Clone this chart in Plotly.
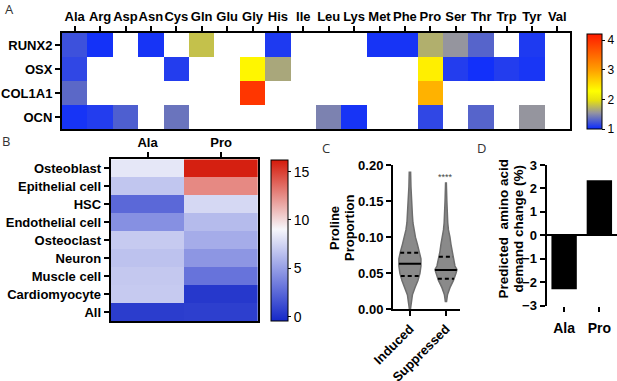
import plotly.graph_objects as go
import numpy as np

# ---------------- Panel A data ----------------
aa_cols = ["Ala","Arg","Asp","Asn","Cys","Gln","Glu","Gly","His","Ile",
           "Leu","Lys","Met","Phe","Pro","Ser","Thr","Trp","Tyr","Val"]
genes = ["RUNX2","OSX","COL1A1","OCN"]
N = None
runx2 = [1.2, 1.04, N, 1.05, N, 1.79, N, N, 1.08, N, N, N, 1.05, 1.05, 1.69, 1.55, 1.3, N, 1.08, N]
osx   = [1.15, N, N, N, 1.1, N, N, 2.35, 1.65, N, N, N, N, N, 2.4, 1.1, 1.03, 1.1, 1.06, N]
col1a1= [1.32, N, N, N, N, N, N, 3.95, N, N, N, N, N, N, 2.85, N, N, N, N, N]
ocn   = [1.05, 1.1, 1.27, N, 1.38, N, N, N, N, N, 1.45, 1.05, N, N, 1.15, N, 1.3, N, 1.55, N]

# ---------------- Panel B data ----------------
b_cols = ["Ala","Pro"]
cell_types = ["Osteoblast","Epithelial cell","HSC","Endothelial cell","Osteoclast",
              "Neuron","Muscle cell","Cardiomyocyte","All"]
ala_vals = [8.3, 6.8, 2.5, 4.3, 7.0, 6.6, 6.9, 7.0, 0.5]
pro_vals = [16.0, 12.6, 7.6, 6.3, 5.6, 4.6, 3.0, 0.3, 0.6]

# ---------------- Panel C data (violin outline) ----------------
c_groups = ["Induced","Suppressed"]
ind_y  = [0.000,0.010,0.020,0.030,0.040,0.050,0.060,0.070,0.080,0.090,0.100,0.110,0.120,0.130,0.140,0.150,0.170,0.190]
ind_hw = [0.014,0.042,0.069,0.139,0.222,0.278,0.306,0.306,0.264,0.208,0.153,0.111,0.083,0.069,0.056,0.042,0.028,0.019]
sup_y  = [0.010,0.020,0.030,0.040,0.050,0.055,0.060,0.070,0.080,0.090,0.100,0.110,0.120,0.130,0.150,0.175]
sup_hw = [0.014,0.042,0.111,0.208,0.278,0.306,0.250,0.208,0.167,0.139,0.111,0.069,0.050,0.036,0.025,0.011]
ind_quart = [0.046, 0.063, 0.0785]
sup_quart = [0.0424, 0.0545, 0.0729]

# ---------------- Panel D data ----------------
d_cats = ["Ala","Pro"]
d_vals = [-2.3, 2.35]

W, H = 617, 381
def fx(px): return px / W
def fy(py): return 1 - py / H

FONT = "Liberation Sans"
bold = dict(family=FONT, size=13, color="black", weight="bold")

fig = go.Figure()

# Panel A heatmap
fig.add_trace(go.Heatmap(
    z=[runx2, osx, col1a1, ocn], x=aa_cols, y=genes,
    coloraxis="coloraxis", xaxis="x", yaxis="y", hoverongaps=False))

# Panel B heatmap
fig.add_trace(go.Heatmap(
    z=[[a, p] for a, p in zip(ala_vals, pro_vals)], x=b_cols, y=cell_types,
    coloraxis="coloraxis2", xaxis="x2", yaxis="y2"))

# Panel C violins
for i, (ys, hws, q) in enumerate([(ind_y, ind_hw, ind_quart), (sup_y, sup_hw, sup_quart)]):
    ys = np.array(ys); hws = np.array(hws)
    xs = np.concatenate([i + hws, (i - hws)[::-1]])
    yy = np.concatenate([ys, ys[::-1]])
    fig.add_trace(go.Scatter(x=xs, y=yy, fill="toself", fillcolor="#8a8a8a",
                             mode="lines", line=dict(color="#6e6e6e", width=1.5),
                             xaxis="x3", yaxis="y3", showlegend=False, hoverinfo="skip"))
    for k, qv in enumerate(q):
        w = float(np.interp(qv, ys, hws))
        fig.add_trace(go.Scatter(x=[i - w, i + w], y=[qv, qv], mode="lines",
                                 line=dict(color="black", width=2,
                                           dash="solid" if k == 1 else "4px,3px"),
                                 xaxis="x3", yaxis="y3", showlegend=False, hoverinfo="skip"))

# Panel D bars
fig.add_trace(go.Bar(x=d_cats, y=d_vals, marker=dict(color="black", line=dict(width=0)),
                     width=0.72, xaxis="x4", yaxis="y4", showlegend=False))

axline = dict(showline=True, linecolor="black", linewidth=2, ticks="outside",
              tickcolor="black", tickwidth=1.5, ticklen=5, showgrid=False, zeroline=False,
              tickfont=bold, automargin=False)

cs_a = [[0.0, "#0a2aff"], [0.17, "#9494a0"], [0.30, "#e6e010"], [0.40, "#ffff00"],
        [0.62, "#ffa000"], [1.0, "#ff1a00"]]
cs_b = [[0.0, "#1428c8"], [0.57, "#f7f7fb"], [1.0, "#d41a0a"]]

fig.update_layout(
    width=W, height=H, margin=dict(l=0, r=0, t=0, b=0, autoexpand=False),
    paper_bgcolor="white", plot_bgcolor="white", showlegend=False,
    font=dict(family=FONT, color="black"),
    xaxis=dict(domain=[fx(62), fx(570)], anchor="y", side="top", mirror=True, tickangle=0, **axline),
    yaxis=dict(domain=[fy(129), fy(33)], anchor="x", autorange="reversed", mirror=True, **axline),
    xaxis2=dict(domain=[fx(110.7), fx(258)], anchor="y2", side="top", mirror=True, tickangle=0, **axline),
    yaxis2=dict(domain=[fy(321), fy(159.3)], anchor="x2", autorange="reversed", mirror=True, **axline),
    xaxis3=dict(domain=[fx(393), fx(460)], anchor="y3", range=[-0.47, 1.39],
                tickvals=[0, 1], ticktext=c_groups, tickangle=-45, **axline),
    yaxis3=dict(domain=[fy(309.3), fy(165)], anchor="x3", range=[0, 0.2],
                tickvals=[0, 0.05, 0.10, 0.15, 0.20], tickformat=".2f", **axline),
    xaxis4=dict(domain=[fx(546.5), 1], anchor="y4", range=[-0.5, 1.5], automargin=False,
                showline=False, ticks="outside", tickcolor="black", tickwidth=1.5, ticklen=5,
                tickangle=0, showgrid=False, zeroline=False,
                tickfont=dict(family=FONT, size=14, color="black", weight="bold"),
                ticklabelstandoff=4),
    yaxis4=dict(domain=[fy(305.7), fy(165)], anchor="x4", range=[-3, 3], dtick=1,
                zeroline=True, zerolinecolor="black", zerolinewidth=2,
                **{k: v for k, v in axline.items() if k != "zeroline"}),
    coloraxis=dict(colorscale=cs_a, cmin=1, cmax=4.2,
                   colorbar=dict(x=fx(586.7), xanchor="left", xpad=0, ypad=0,
                                 y=fy(81.7), yanchor="middle", lenmode="pixels", len=95,
                                 thicknessmode="pixels", thickness=15,
                                 outlinecolor="black", outlinewidth=1,
                                 tickvals=[1, 2, 3, 4], ticks="outside", ticklen=3,
                                 tickcolor="black",
                                 tickfont=dict(family=FONT, size=12, color="black"))),
    coloraxis2=dict(colorscale=cs_b, cmin=-0.45, cmax=16.2,
                    colorbar=dict(x=fx(270.7), xanchor="left", xpad=0, ypad=0,
                                  y=fy(240.5), yanchor="middle", lenmode="pixels", len=161,
                                  thicknessmode="pixels", thickness=16.5,
                                  outlinecolor="black", outlinewidth=1,
                                  tickvals=[0, 5, 10, 15], ticks="outside", ticklen=3,
                                  tickcolor="black",
                                  tickfont=dict(family=FONT, size=14, color="black"))),
)

letter_font = dict(family="Open Sans", size=13, color="#333333")
title_c = dict(family=FONT, size=13, color="black", weight="bold")
title_d = dict(family=FONT, size=13.5, color="black", weight="bold")

def vtext(text, xpx, ypx, font):
    return dict(text=text, x=fx(xpx), y=fy(ypx), xref="paper", yref="paper",
                xanchor="center", yanchor="middle", textangle=-90, showarrow=False, font=font)

annotations = [
    dict(text="A", x=fx(3), y=fy(9), xref="paper", yref="paper", xanchor="left", yanchor="middle",
         showarrow=False, font=letter_font),
    dict(text="B", x=fx(0), y=fy(141), xref="paper", yref="paper", xanchor="left", yanchor="middle",
         showarrow=False, font=letter_font),
    dict(text="C", x=fx(320), y=fy(148), xref="paper", yref="paper", xanchor="left", yanchor="middle",
         showarrow=False, font=letter_font),
    dict(text="D", x=fx(475), y=fy(148), xref="paper", yref="paper", xanchor="left", yanchor="middle",
         showarrow=False, font=letter_font),
    vtext("Proline", 334, 228, title_c),
    vtext("Proportion", 349, 228, title_c),
    vtext("Predicted \u00a0amino acid", 503, 228.5, title_d),
    vtext("demand change (%)", 518, 228.5, title_d),
    dict(text="****", x=1, y=0.184, xref="x3", yref="y3", xanchor="center", yanchor="middle",
         showarrow=False, font=dict(family=FONT, size=9, color="#444444")),
]
fig.update_layout(annotations=annotations)

fig.write_html("out.html", config={"displayModeBar": False},
               post_script="document.body.style.margin='0px';")
